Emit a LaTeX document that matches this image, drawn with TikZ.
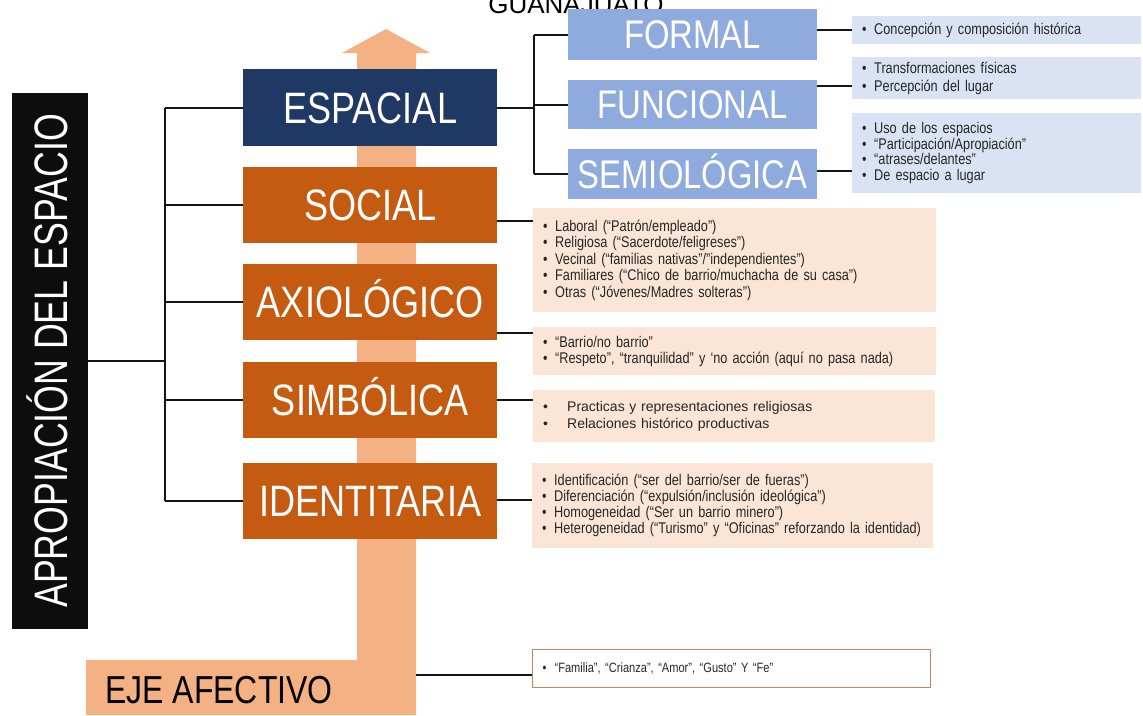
\documentclass[tikz,border=0pt]{standalone}
\usepackage{fontspec}
\setmainfont{Liberation Sans}
\newfontfamily\nar[FakeStretch=0.82]{Liberation Sans}
\newfontfamily\narB[FakeStretch=0.76]{Liberation Sans}
\definecolor{navy}{HTML}{203864}
\definecolor{orng}{HTML}{C55A11}
\definecolor{lorng}{HTML}{F4B183}
\definecolor{bblue}{HTML}{8FAADC}
\definecolor{lblue}{HTML}{DAE3F3}
\definecolor{pale}{HTML}{FBE5D6}
\definecolor{txt}{HTML}{262626}
\definecolor{brd}{HTML}{C8855A}
\newcommand\bitem[1]{\mbox{\makebox[12pt][l]{•}#1}}
\newcommand\bitemw[1]{\mbox{\makebox[24pt][l]{•}#1}}
\tikzset{
  mainbox/.style={anchor=north west, fill=orng, text=white, inner sep=0pt,
    minimum width=254pt, minimum height=76pt, text height=31pt, text depth=0pt,
    font=\nar\fontsize{44}{44}\selectfont},
  subbox/.style={anchor=north west, fill=bblue, text=white, inner sep=0pt,
    minimum width=249pt, text height=28.5pt, text depth=0pt,
    font=\nar\fontsize{40}{40}\selectfont},
  listbox/.style={anchor=north west, inner xsep=10pt, inner ysep=0pt, align=left,
    text=txt},
  link/.style={line width=1.8pt, draw=black!92},
}
\begin{document}
\begin{tikzpicture}[x=1pt,y=-1pt]
\useasboundingbox (0,0) rectangle (1143,715);
\fill[white] (0,0) rectangle (1143,715);

% title (cut by the page edge)
\node[anchor=base, inner sep=0pt, font=\fontsize{26}{26}\selectfont] (title) at (576,13) {GUANAJUATO};

% affective axis arrow
\fill[lorng] (86,715) -- (86,660) -- (357,660) -- (357,53) -- (342,53) -- (386,29)
  -- (430,53) -- (416,53) -- (416,715) -- cycle;
\node[anchor=base west, inner sep=0pt, font=\nar\fontsize{39}{39}\selectfont] (eje) at (105,703) {EJE AFECTIVO};
\coordinate (ejeE) at (416,675);

% left black box
\node[fill=black!95, text=white, rotate=90, inner sep=0pt, minimum width=536pt,
  minimum height=76pt, text height=34pt, text depth=0pt,
  font=\narB\fontsize{47}{47}\selectfont] (apro) at (50,361) {APROPIACIÓN DEL ESPACIO};

% main boxes
\node[mainbox, fill=navy, minimum height=77pt] (espacial) at (243,69) {ESPACIAL};
\node[mainbox] (social) at (243,167) {SOCIAL};
\node[mainbox] (axio) at (243,264) {AXIOLÓGICO};
\node[mainbox] (simb) at (243,362) {SIMBÓLICA};
\node[mainbox] (ident) at (243,463) {IDENTITARIA};

% sub boxes
\node[subbox, minimum height=51pt] (formal) at (568,9) {FORMAL};
\node[subbox, minimum height=49pt] (funcional) at (568,80) {FUNCIONAL};
\node[subbox, minimum height=50pt] (semio) at (568,149) {SEMIOLÓGICA};

% list boxes (blue)
\node[listbox, fill=lblue, text width=269pt, minimum height=28pt,
  font=\nar\fontsize{15.5}{17}\selectfont] (b1) at (852,16)
  {\bitem{Concepción y composición histórica}};
\node[listbox, fill=lblue, text width=269pt, minimum height=42pt,
  font=\nar\fontsize{15.5}{18}\selectfont] (b2) at (852,57)
  {\bitem{Transformaciones físicas}\\ \bitem{Percepción del lugar}};
\node[listbox, fill=lblue, text width=269pt, minimum height=80pt,
  font=\nar\fontsize{15.5}{15.5}\selectfont] (b3) at (852,113)
  {\bitem{Uso de los espacios}\\ \bitem{“Participación/Apropiación”}\\
   \bitem{“atrases/delantes”}\\ \bitem{De espacio a lugar}};

% list boxes (orange)
\node[listbox, fill=pale, text width=383pt, minimum height=104pt,
  font=\nar\fontsize{15.5}{16.5}\selectfont] (s1) at (533,208)
  {\bitem{Laboral (“Patrón/empleado”)}\\ \bitem{Religiosa (“Sacerdote/feligreses”)}\\
   \bitem{Vecinal (“familias nativas”/”independientes”)}\\
   \bitem{Familiares (“Chico de barrio/muchacha de su casa”)}\\
   \bitem{Otras (“Jóvenes/Madres solteras”)}};
\node[listbox, fill=pale, text width=383pt, minimum height=48pt,
  font=\nar\fontsize{15.5}{16}\selectfont] (a1) at (533,327)
  {\bitem{“Barrio/no barrio”}\\ \bitem{“Respeto”, “tranquilidad” y ‘no acción (aquí no pasa nada)}};
\node[listbox, fill=pale, text width=382pt, minimum height=52pt,
  font=\fontsize{14}{17}\selectfont] (y1) at (533,390)
  {\bitemw{Practicas y representaciones religiosas}\\ \bitemw{Relaciones histórico productivas}};
\node[listbox, fill=pale, text width=381pt, minimum height=85pt,
  font=\nar\fontsize{15.5}{16}\selectfont] (i1) at (532,463)
  {\bitem{Identificación (“ser del barrio/ser de fueras”)}\\
   \bitem{Diferenciación (“expulsión/inclusión ideológica”)}\\
   \bitem{Homogeneidad (“Ser un barrio minero”)}\\
   \bitem{Heterogeneidad (“Turismo” y “Oficinas” reforzando la identidad)}};
\node[listbox, fill=white, draw=brd, line width=1.2pt, text width=378pt, minimum height=38pt,
  font=\nar\fontsize{13.5}{15}\selectfont] (f1) at (532,649)
  {\bitem{“Familia”, “Crianza”, “Amor”, “Gusto” Y “Fe”}};

% left tree
\coordinate (lbus) at (165,361);
\draw[link] (apro.south) -- (lbus);
\draw[link] (espacial.west -| lbus) -- (ident.west -| lbus);
\foreach \n in {espacial,social,axio,simb,ident}
  \draw[link] (\n.west) -- (\n.west -| lbus);

% right tree of ESPACIAL
\coordinate (rbus) at (534,106);
\draw[link] (espacial.east) -- (espacial.east -| rbus);
\draw[link] (formal.west -| rbus) -- (semio.west -| rbus);
\foreach \n in {formal,funcional,semio}
  \draw[link] (\n.west) -- (\n.west -| rbus);

% connectors to lists
\draw[link] (formal.east |- b1.west) -- (b1.west);
\draw[link] (funcional.east |- 0,86) -- (b2.west |- 0,86);
\draw[link] (semio.east |- 0,171) -- (b3.west |- 0,171);
\draw[link] (social.east |- 0,221) -- (s1.west |- 0,221);
\draw[link] (axio.east |- 0,333) -- (a1.west |- 0,333);
\draw[link] (simb.east |- 0,400) -- (y1.west |- 0,400);
\draw[link] (ident.east |- 0,500) -- (i1.west |- 0,500);
\draw[link] (ejeE) -- (f1.west |- ejeE);
\end{tikzpicture}
\end{document}
